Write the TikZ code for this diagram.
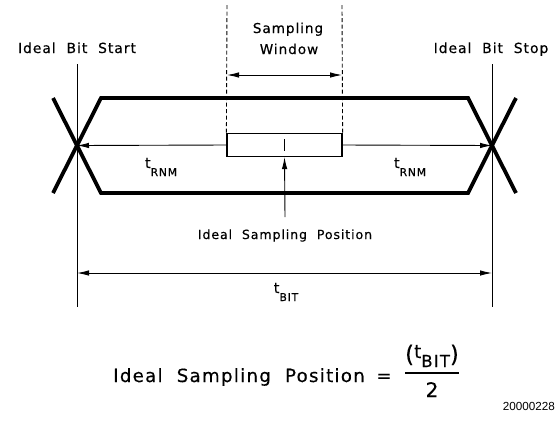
\documentclass[tikz,border=0pt]{standalone}
\usepackage{fontspec}
\setmainfont{DejaVu Sans}[LetterSpace=7,WordSpace=2,FakeBold=0.4]
\newfontfamily\eqfont{DejaVu Sans}[FakeBold=0.4]
\newfontfamily\figfont{Liberation Sans}
\usetikzlibrary{arrows.meta}
\newcommand{\fs}[1]{\fontsize{#1}{#1}\selectfont}
\newcommand{\tlab}[1]{t\raisebox{-8pt}{\fs{10.8}#1}}
\tikzset{
        signal/.style={black, line width=3.8pt},
        thinline/.style={black, line width=0.9pt},
        arr/.style={thinline, -{Latex[length=12pt,width=5.5pt]}},
        dimarr/.style={thinline, {Latex[length=12pt,width=5.5pt]}-{Latex[length=12pt,width=5.5pt]}},
        winline/.style={black, line width=0.9pt, dash pattern=on 4pt off 2.5pt},
        lbl/.style={inner sep=0pt, anchor=base}
}
\begin{document}
\begin{tikzpicture}[x=1pt, y=-1pt]
        \useasboundingbox (0,0) rectangle (556,424);
        \coordinate (xstart) at (77,145.5);
        \coordinate (xstop) at (492,145.5);
        \draw[signal] (53,98) -- (xstart) -- (101,193) -- (468,193) -- (xstop) -- (516,98);
        \draw[signal] (53,193) -- (xstart) -- (101,98) -- (468,98) -- (xstop) -- (516,193);
        \foreach \x in {77, 492} {
                \draw[thinline] (\x,64) -- (\x,307);
            }
        \node[draw, line width=1.2pt, minimum width=115pt, minimum height=23pt, inner sep=0pt] (winbox) at (284.5,145) {};
        \draw[line width=1.2pt] (284.5,139) -- (284.5,151);
        \foreach \x/\a in {227/north west, 342/north east} {
                \draw[winline] (\x,5) -- (winbox.\a);
            }
        \coordinate (winl) at (227,75);
        \coordinate (winr) at (342,75);
        \draw[dimarr] (winl) -- (winr);
        \draw[arr] (winbox.west) -- (xstart);
        \draw[arr] (winbox.east) -- (xstop);
        \coordinate (bitl) at (77,273);
        \coordinate (bitr) at (492,273);
        \draw[dimarr] (bitl) -- (bitr);
        \node[lbl, font=\fs{13.9}] (bitstart) at (77,53) {Ideal Bit Start};
        \node[lbl, font=\fs{13.9}] (bitstop) at (491,53) {Ideal Bit Stop};
        \node[lbl, font=\fs{13.6}] (samp) at (288,33) {Sampling};
        \node[lbl, font=\fs{13.6}] (win) at (289,54) {Window};
        \node[lbl, font=\fs{14.5}] (rnml) at (161,168) {\tlab{RNM}};
        \node[lbl, font=\fs{14.5}] (rnmr) at (410,168) {\tlab{RNM}};
        \node[lbl, font=\fs{14.5}] (tbit) at (286,293) {\tlab{BIT}};
        \node[lbl, font=\fs{12.6}] (sampos) at (285,239) {Ideal Sampling Position};
        \draw[arr] ([yshift=12pt]sampos.north) -- (winbox.south);
        \node[lbl, font=\fs{18.2}] (eqtext) at (239,382) {Ideal Sampling Position};
        \node[lbl, font=\eqfont\fs{18}] (eqsign) at (384,382) {=};
        \node[lbl, font=\fs{18.5}] (eqnum) at (432,358) {\raisebox{-4pt}{\eqfont\fs{23}(}t\raisebox{-9pt}{\fs{16.5}BIT}\raisebox{-4pt}{\eqfont\fs{23})}};
        \node[lbl, font=\eqfont\fs{20}] (eqden) at (432,397) {2};
        \draw[line width=1.2pt] (405,373) -- (459,373);
        \node[inner sep=0pt, anchor=base east, font=\figfont\fs{11.7}] (fignum) at (555,410) {20000228};
    \end{tikzpicture}
\end{document}
